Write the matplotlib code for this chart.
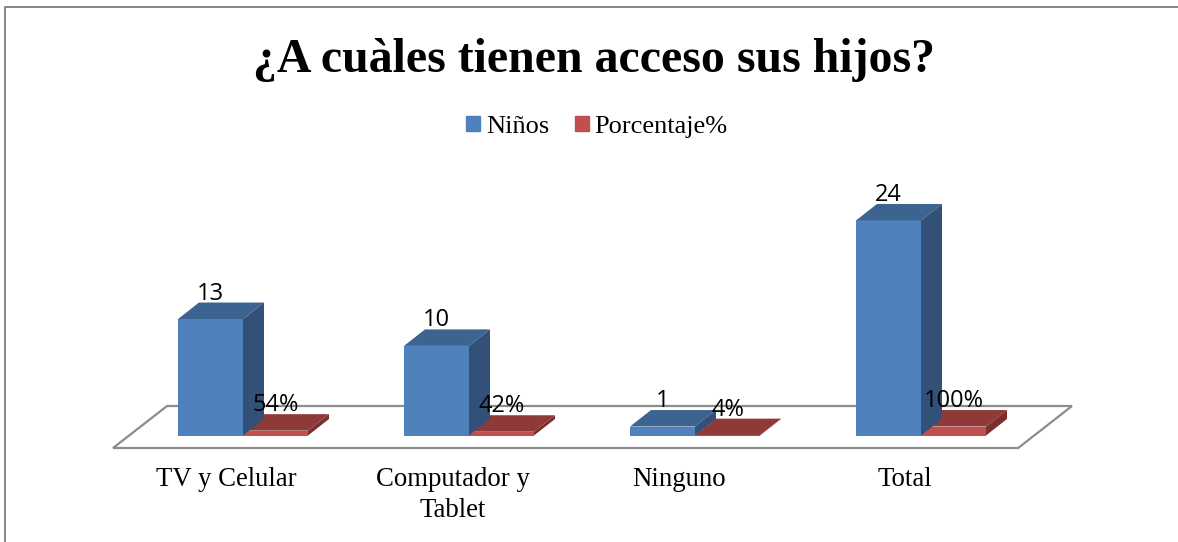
import matplotlib
matplotlib.use('Agg')
import matplotlib.pyplot as plt
from matplotlib.patches import Patch, Polygon

categories = ['TV y Celular', 'Computador y\nTablet', 'Ninguno', 'Total']
ninos = [13, 10, 1, 24]
porcentaje = [0.54, 0.42, 0.04, 1.00]
pct_labels = ['54%', '42%', '4%', '100%']

W, H = 1178, 542
PX_X = 226.0     # pixeles por categoria
PX_Y = 8.96      # pixeles por unidad
X0, Y0 = 243.0, 435.5   # origen del grafico en pixeles

BAR_W = 65 / PX_X
DX = 21 / PX_X   # profundidad 3d
DY = 16.5 / PX_Y
LABEL_UP = 19.5 / PX_Y

BLUE, BLUE_TOP, BLUE_SIDE = '#4f81bd', '#3c6490', '#335079'
RED, RED_TOP, RED_SIDE = '#c0504d', '#8f3a38', '#7a2f2d'
GRAY = '#8c8c8c'

plt.rcParams['font.family'] = ['Liberation Serif', 'DejaVu Sans']

fig = plt.figure(figsize=(W / 100, H / 100), dpi=100)
ax = fig.add_axes([0, 0, 1, 1])
ax.set_xlim(-X0 / PX_X, (W - X0) / PX_X)
ax.set_ylim((Y0 - H) / PX_Y, Y0 / PX_Y)
ax.axis('off')

# marco exterior
fig.add_artist(plt.Line2D([5 / W, 5 / W, 1], [0, 1 - 6.5 / H, 1 - 6.5 / H],
                          color='#868686', lw=1.4, transform=fig.transFigure))

# piso
fl, fr, bl, br = -0.575, 3.43, -0.336, 3.668
fy, by = -12.5 / PX_Y, 29.5 / PX_Y
ax.add_patch(Polygon([(fl, fy), (fr, fy), (br, by), (bl, by)], closed=True,
                     facecolor='white', edgecolor=GRAY, lw=1.6, zorder=1))


def bar3d(x, h, front, top, side):
    ax.bar(x, h, width=BAR_W, align='edge', color=front, zorder=3, linewidth=0)
    x1 = x + BAR_W
    ax.add_patch(Polygon([(x, h), (x1, h), (x1 + DX, h + DY), (x + DX, h + DY)],
                         closed=True, facecolor=top, edgecolor='none', zorder=3))
    ax.add_patch(Polygon([(x1, 0), (x1 + DX, DY), (x1 + DX, h + DY), (x1, h)],
                         closed=True, facecolor=side, edgecolor='none', zorder=3))


# rojas primero, las azules quedan encima
for i in range(len(categories)):
    bar3d(i, porcentaje[i], RED, RED_TOP, RED_SIDE)
for i in range(len(categories)):
    bar3d(i - BAR_W, ninos[i], BLUE, BLUE_TOP, BLUE_SIDE)

# etiquetas de datos
for i in range(len(categories)):
    ax.text(i - BAR_W / 2, ninos[i] + LABEL_UP, str(ninos[i]),
            ha='center', va='baseline', fontsize=17, family='Open Sans',
            color='black', zorder=5)
    ax.text(i + BAR_W / 2, porcentaje[i] + LABEL_UP, pct_labels[i],
            ha='center', va='baseline', fontsize=17, family='Open Sans',
            color='black', zorder=5)
    ax.text(i - 0.0725, -31 / PX_Y, categories[i], ha='center', va='top',
            fontsize=19.3, linespacing=1.33, color='black', zorder=5)

fig.text(594 / W, 1 - 60.5 / H, '¿A cuàles tienen acceso sus hijos?', ha='center',
         va='center', fontsize=34.5, fontweight='bold', color='black')

handles = [Patch(color=BLUE, label='Niños'), Patch(color=RED, label='Porcentaje%')]
fig.legend(handles=handles, loc='center', bbox_to_anchor=(597 / W, 1 - 127 / H),
           ncol=2, frameon=False, fontsize=19, handlelength=0.53, handleheight=0.53,
           handletextpad=0.22, columnspacing=0.95, borderpad=0, borderaxespad=0)

fig.savefig('out.png', dpi=100)
